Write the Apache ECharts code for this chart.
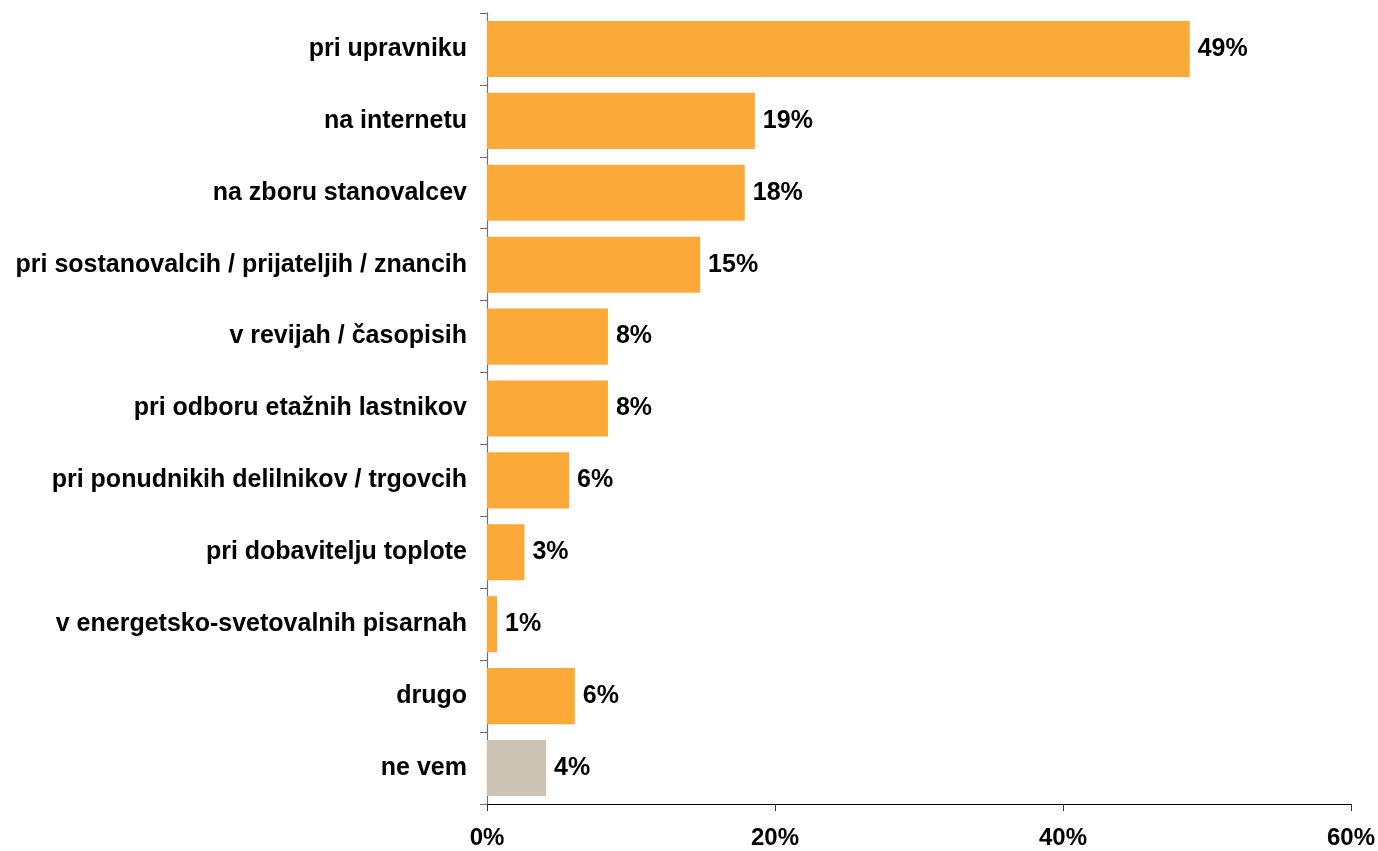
<!DOCTYPE html>
<html>
<head>
<meta charset="utf-8">
<script src="https://cdn.jsdelivr.net/npm/echarts@6/dist/echarts.min.js"></script>
<style>
html,body{margin:0;padding:0;background:#fff;}
#chart{width:1378px;height:851px;}
</style>
</head>
<body>
<div id="chart"></div>
<script>
var categories = [
  'pri upravniku',
  'na internetu',
  'na zboru stanovalcev',
  'pri sostanovalcih / prijateljih / znancih',
  'v revijah / časopisih',
  'pri odboru etažnih lastnikov',
  'pri ponudnikih delilnikov / trgovcih',
  'pri dobavitelju toplote',
  'v energetsko-svetovalnih pisarnah',
  'drugo',
  'ne vem'
];
var values = [48.8, 18.6, 17.9, 14.8, 8.4, 8.4, 5.7, 2.6, 0.7, 6.1, 4.1];
var xTicks = [0, 20, 40, 60];

var ORANGE = '#FBAA3A';
var GREY = '#CBC3B3';
var FONT = 'Liberation Sans, Arial, sans-serif';

var chart = echarts.init(document.getElementById('chart'));
chart.setOption({
  animation: false,
  backgroundColor: '#ffffff',
  grid: { left: 487, right: 26, top: 13, bottom: 47, containLabel: false },
  xAxis: {
    type: 'value',
    min: xTicks[0],
    max: xTicks[xTicks.length - 1],
    interval: xTicks[1] - xTicks[0],
    axisLine: { show: true, lineStyle: { color: '#000', width: 1.2 } },
    axisTick: { show: true, length: 7, lineStyle: { color: '#333' } },
    splitLine: { show: false },
    axisLabel: {
      margin: 22,
      formatter: '{value}%',
      color: '#000',
      fontFamily: FONT,
      fontWeight: 'bold',
      fontSize: 24
    }
  },
  yAxis: {
    type: 'category',
    data: categories,
    inverse: true,
    axisLine: { show: true, lineStyle: { color: '#6e6e6e', width: 1.2 } },
    axisTick: { show: true, length: 7, alignWithLabel: false, lineStyle: { color: '#6e6e6e' } },
    axisLabel: {
      margin: 20,
      color: '#000',
      fontFamily: FONT,
      fontWeight: 'bold',
      fontSize: 25
    }
  },
  series: [{
    type: 'bar',
    data: values.map(function (v, i) {
      return { value: v, itemStyle: { color: i === values.length - 1 ? GREY : ORANGE } };
    }),
    barCategoryGap: '22%',
    label: {
      show: true,
      position: 'right',
      distance: 8,
      formatter: function (p) { return Math.round(p.value) + '%'; },
      color: '#000',
      fontFamily: FONT,
      fontWeight: 'bold',
      fontSize: 25
    }
  }]
});
</script>
</body>
</html>
